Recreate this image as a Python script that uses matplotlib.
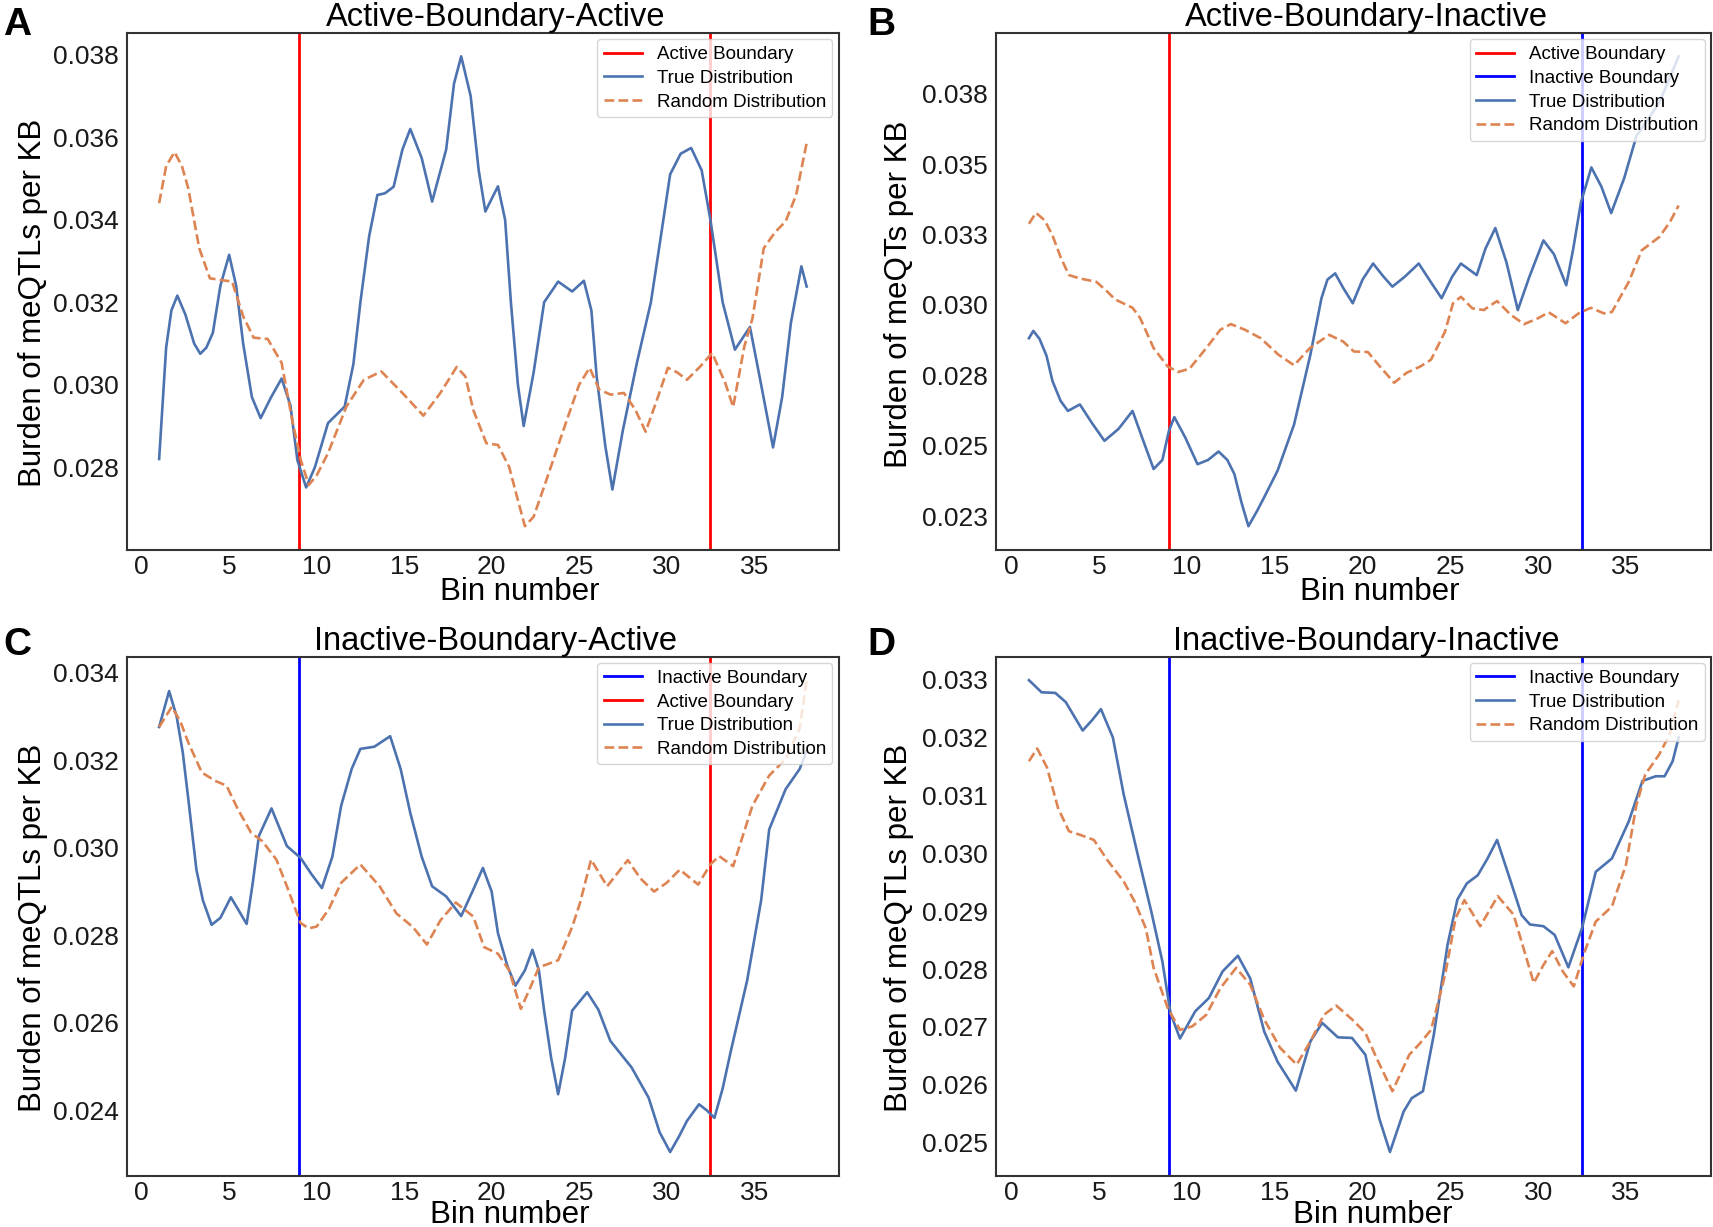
import matplotlib.pyplot as plt

plt.rcParams['font.family'] = ['Liberation Sans', 'DejaVu Sans']

TRUE_COLOR = '#4C72B0'
RAND_COLOR = '#DD8452'

# ---- data ----
bin_ticks = [0, 5, 10, 15, 20, 25, 30, 35]
boundary_left = 9.0
boundary_right = 32.5

# A: Active-Boundary-Active
a_true_x = [1.0, 1.4, 1.7, 2.04, 2.5, 3.0, 3.35, 3.7, 4.07, 4.5, 5.0, 5.4, 5.8, 6.3, 6.8, 7.4, 8.0, 8.5,
            8.9, 9.4, 9.9, 10.65, 11.6, 12.1, 12.5, 13.0, 13.47, 13.9, 14.4, 14.9, 15.35, 16.0, 16.6,
            17.4, 17.85, 18.26, 18.8, 19.26, 19.64, 20.36, 20.77, 21.1, 21.5, 21.83, 22.4, 23.0, 23.8,
            24.6, 25.27, 25.7, 26.0, 26.5, 26.9, 27.5, 28.3, 29.1, 29.6, 30.2, 30.8, 31.4, 32.0, 32.5,
            33.2, 33.9, 34.76, 35.4, 36.08, 36.6, 37.1, 37.7, 38.0]
a_true_y = [0.0282, 0.0309, 0.0318, 0.03216, 0.0317, 0.0310, 0.03075, 0.0309, 0.03126, 0.0324, 0.03315,
            0.0324, 0.0310, 0.0297, 0.02919, 0.0297, 0.03015, 0.0295, 0.02817, 0.02751, 0.0280, 0.02907,
            0.02947, 0.0305, 0.0320, 0.0336, 0.0346, 0.03464, 0.0348, 0.0357, 0.0362, 0.0355, 0.03444,
            0.0357, 0.0373, 0.03796, 0.0370, 0.0352, 0.0342, 0.03481, 0.0340, 0.0320, 0.0300, 0.0290,
            0.0303, 0.0320, 0.0325, 0.03226, 0.03252, 0.0318, 0.0302, 0.0285, 0.02746, 0.0289, 0.03053,
            0.0320, 0.0334, 0.0351, 0.0356, 0.03574, 0.0352, 0.0340, 0.0320, 0.03085, 0.0314, 0.0300,
            0.02848, 0.0297, 0.0315, 0.03287, 0.03238]
a_rand_x = [1.0, 1.4, 1.88, 2.3, 2.66, 3.29, 3.9, 4.5, 5.17, 5.8, 6.4, 7.2, 8.0, 8.6, 9.1, 9.55, 10.0,
            10.65, 11.7, 12.7, 13.7, 14.9, 16.1, 17.07, 18.0, 18.5, 18.95, 19.7, 20.36, 21.0, 21.5, 21.9,
            22.4, 23.0, 24.3, 25.0, 25.6, 26.15, 26.8, 27.56, 28.2, 28.8, 29.5, 30.07, 30.6, 31.16, 31.94,
            32.6, 33.35, 33.8, 34.44, 34.9, 35.55, 36.2, 36.8, 37.4, 38.0]
a_rand_y = [0.0344, 0.0353, 0.03564, 0.0353, 0.03477, 0.03331, 0.03258, 0.03254, 0.0325, 0.03166, 0.03114,
            0.03111, 0.03053, 0.02915, 0.02817, 0.02757, 0.0278, 0.02834, 0.02947, 0.03012, 0.03032,
            0.0298, 0.02925, 0.0298, 0.03043, 0.0302, 0.02939, 0.02858, 0.02854, 0.02801, 0.0272, 0.02657,
            0.0268, 0.02753, 0.02915, 0.0300, 0.03041, 0.02988, 0.02976, 0.0298, 0.0294, 0.02886, 0.0297,
            0.03041, 0.0303, 0.03012, 0.03045, 0.03077, 0.03004, 0.02946, 0.03093, 0.0316, 0.03331, 0.0337,
            0.03396, 0.0346, 0.03586]

# B: Active-Boundary-Inactive
b_true_x = [1.0, 1.25, 1.6, 2.0, 2.34, 2.8, 3.22, 3.9, 4.6, 5.3, 6.1, 6.9, 7.5, 8.1, 8.6, 8.97, 9.28, 9.9,
            10.6, 11.2, 11.8, 12.3, 12.7, 13.1, 13.5, 14.0, 14.4, 15.16, 16.1, 17.03, 17.66, 18.0, 18.44,
            18.9, 19.44, 20.0, 20.6, 21.2, 21.7, 22.4, 23.2, 23.9, 24.5, 25.1, 25.6, 26.5, 27.0, 27.56,
            28.2, 28.84, 29.5, 30.3, 30.9, 31.6, 32.0, 32.44, 33.03, 33.6, 34.16, 34.9, 35.6, 36.9, 38.0]
b_true_y = [0.02882, 0.02908, 0.0288, 0.0282, 0.0273, 0.0266, 0.02624, 0.02647, 0.0258, 0.02518, 0.0256,
            0.02624, 0.0252, 0.02418, 0.0245, 0.02553, 0.02602, 0.0253, 0.02435, 0.0245, 0.0248, 0.0245,
            0.0240, 0.0230, 0.02215, 0.0227, 0.02318, 0.02412, 0.02576, 0.02824, 0.03024, 0.0309, 0.03112,
            0.0306, 0.03006, 0.0309, 0.03147, 0.0310, 0.03065, 0.0310, 0.03147, 0.0308, 0.03024, 0.0310,
            0.03147, 0.03106, 0.0320, 0.03273, 0.0315, 0.02982, 0.0310, 0.03229, 0.0318, 0.0307, 0.0320,
            0.03365, 0.03488, 0.0342, 0.03326, 0.0345, 0.0360, 0.03718, 0.03882]
b_rand_x = [1.0, 1.4, 1.9, 2.34, 2.8, 3.28, 3.9, 4.84, 5.47, 5.9, 6.9, 7.34, 8.1, 8.9, 9.5, 10.15, 11.1,
            11.9, 12.5, 13.3, 14.2, 15.2, 16.1, 17.0, 18.1, 18.9, 19.5, 20.3, 20.9, 21.8, 22.5, 23.3, 23.9,
            24.7, 25.15, 25.6, 26.25, 26.9, 27.66, 28.44, 29.2, 30.0, 30.6, 31.56, 32.3, 33.0, 33.75, 34.2,
            35.16, 35.9, 36.9, 37.5, 38.0]
b_rand_y = [0.03288, 0.03327, 0.0330, 0.03247, 0.0317, 0.03106, 0.03094, 0.03082, 0.03047, 0.0302, 0.0299,
            0.02953, 0.02847, 0.02782, 0.02762, 0.02774, 0.02847, 0.02912, 0.02932, 0.02912, 0.02882,
            0.02824, 0.02786, 0.02847, 0.02894, 0.0287, 0.02835, 0.02833, 0.02788, 0.02724, 0.02759,
            0.02782, 0.02806, 0.02906, 0.03006, 0.03029, 0.02988, 0.02982, 0.03014, 0.02965, 0.02932,
            0.02953, 0.02974, 0.02935, 0.0297, 0.0299, 0.0297, 0.02975, 0.03082, 0.03194, 0.03241,
            0.03294, 0.03353]

# C: Inactive-Boundary-Active
c_true_x = [1.0, 1.57, 2.0, 2.35, 2.7, 3.13, 3.5, 4.0, 4.5, 5.1, 5.5, 6.0, 6.35, 6.7, 7.42, 8.3, 9.08, 9.7,
            10.3, 10.9, 11.4, 12.0, 12.5, 13.3, 14.2, 14.8, 15.35, 16.0, 16.6, 17.4, 18.26, 18.9, 19.5,
            20.0, 20.36, 20.9, 21.36, 21.9, 22.33, 22.7, 23.0, 23.4, 23.8, 24.2, 24.6, 25.46, 26.1, 26.78,
            27.4, 28.0, 28.97, 29.6, 30.2, 30.7, 31.16, 31.85, 32.3, 32.73, 33.2, 33.67, 34.6, 35.4, 35.86,
            36.8, 37.6, 38.0]
c_true_y = [0.03276, 0.03358, 0.0330, 0.03218, 0.0310, 0.0295, 0.0288, 0.02824, 0.0284, 0.02887, 0.0286,
            0.02826, 0.0292, 0.03027, 0.0309, 0.03004, 0.02977, 0.0294, 0.02908, 0.0298, 0.03096, 0.0318,
            0.03226, 0.03231, 0.03255, 0.0318, 0.0308, 0.0298, 0.02912, 0.02889, 0.02844, 0.0290, 0.02954,
            0.0290, 0.02805, 0.0273, 0.02685, 0.0272, 0.02767, 0.0272, 0.02628, 0.0252, 0.02437, 0.0252,
            0.02628, 0.0267, 0.0263, 0.02559, 0.02528, 0.02498, 0.02429, 0.0235, 0.02305, 0.0234, 0.02376,
            0.02414, 0.0240, 0.02383, 0.0245, 0.02536, 0.02697, 0.0288, 0.03042, 0.03134, 0.0318, 0.03222]
c_rand_x = [1.0, 1.72, 2.2, 2.66, 3.44, 4.2, 4.85, 5.5, 6.26, 6.9, 7.7, 8.3, 9.08, 9.55, 10.0, 10.7, 11.4,
            12.5, 13.6, 14.56, 15.5, 16.3, 17.07, 17.95, 18.95, 19.57, 20.36, 21.0, 21.67, 22.2, 22.7, 23.8,
            24.6, 25.05, 25.68, 26.6, 27.78, 28.5, 29.28, 30.0, 30.75, 31.8, 32.5, 33.0, 33.8, 34.9, 35.86,
            36.8, 37.6, 38.0]
c_rand_y = [0.03276, 0.03322, 0.0329, 0.03241, 0.03172, 0.03153, 0.03142, 0.03088, 0.03034, 0.03015,
            0.02973, 0.02912, 0.02828, 0.02816, 0.0282, 0.0286, 0.0292, 0.02962, 0.02912, 0.0285, 0.02819,
            0.02779, 0.02834, 0.02875, 0.02843, 0.02773, 0.02758, 0.0272, 0.02632, 0.0268, 0.02727,
            0.02743, 0.02819, 0.02874, 0.02973, 0.02912, 0.02972, 0.0293, 0.029, 0.0292, 0.0295, 0.02916,
            0.02962, 0.02981, 0.02958, 0.03096, 0.03165, 0.03203, 0.03272, 0.03383]

# D: Inactive-Boundary-Inactive
d_true_x = [1.0, 1.72, 2.5, 3.1, 4.06, 4.6, 5.1, 5.78, 6.4, 7.2, 7.97, 8.6, 9.06, 9.6, 10.47, 11.25, 12.03,
            12.9, 13.6, 14.4, 15.16, 16.2, 17.03, 17.7, 18.6, 19.4, 20.16, 20.94, 21.56, 22.34, 22.8, 23.44,
            24.06, 24.84, 25.4, 25.94, 26.56, 27.1, 27.66, 28.44, 29.06, 29.53, 30.3, 30.94, 31.72, 32.5,
            33.28, 34.2, 35.16, 35.94, 36.7, 37.2, 37.66, 38.0]
d_true_y = [0.03299, 0.03278, 0.03277, 0.03261, 0.03212, 0.0323, 0.03249, 0.0320, 0.03101, 0.02997,
            0.02899, 0.02813, 0.02724, 0.0268, 0.02727, 0.0275, 0.02796, 0.02823, 0.02784, 0.02692, 0.0264,
            0.0259, 0.02675, 0.02707, 0.02682, 0.02681, 0.02652, 0.02543, 0.02484, 0.02554, 0.02577,
            0.02589, 0.02687, 0.02842, 0.0292, 0.02948, 0.02962, 0.0299, 0.03023, 0.02951, 0.02893,
            0.02877, 0.02874, 0.02859, 0.02803, 0.02871, 0.02968, 0.02991, 0.03055, 0.03125, 0.03133,
            0.03133, 0.03159, 0.0320]
d_rand_x = [1.0, 1.47, 2.03, 2.66, 3.28, 3.9, 4.7, 5.47, 6.4, 7.03, 7.66, 8.1, 8.9, 9.6, 10.3, 11.1, 11.9,
            12.8, 13.6, 14.4, 15.3, 16.25, 17.03, 17.8, 18.5, 19.4, 20.16, 20.8, 21.7, 22.66, 23.28, 23.9,
            24.7, 25.3, 25.8, 26.7, 27.7, 28.6, 29.75, 30.3, 30.8, 31.4, 32.03, 32.66, 33.28, 34.2, 35.0,
            35.6, 36.1, 36.9, 37.5, 38.0]
d_rand_y = [0.03159, 0.03181, 0.03148, 0.03078, 0.03038, 0.03032, 0.03023, 0.02988, 0.02951, 0.02916,
            0.0287, 0.02802, 0.02733, 0.02695, 0.02701, 0.02721, 0.02767, 0.02802, 0.02773, 0.02713,
            0.02664, 0.02635, 0.02675, 0.02721, 0.02737, 0.02713, 0.0269, 0.02646, 0.02589, 0.02652,
            0.02672, 0.02695, 0.0279, 0.02888, 0.02919, 0.02874, 0.02926, 0.02894, 0.02776, 0.02807,
            0.02831, 0.02796, 0.0277, 0.02831, 0.02882, 0.02908, 0.0298, 0.03084, 0.03136, 0.03171,
            0.03206, 0.03264]

a_yticks = [0.028, 0.030, 0.032, 0.034, 0.036, 0.038]
a_ylabels = ['0.028', '0.030', '0.032', '0.034', '0.036', '0.038']
b_yticks = [0.0225, 0.025, 0.0275, 0.030, 0.0325, 0.035, 0.0375]
b_ylabels = ['0.023', '0.025', '0.028', '0.030', '0.033', '0.035', '0.038']
c_yticks = [0.024, 0.026, 0.028, 0.030, 0.032, 0.034]
c_ylabels = ['0.024', '0.026', '0.028', '0.030', '0.032', '0.034']
d_yticks = [0.025, 0.026, 0.027, 0.028, 0.029, 0.030, 0.031, 0.032, 0.033]
d_ylabels = ['0.025', '0.026', '0.027', '0.028', '0.029', '0.030', '0.031', '0.032', '0.033']


def draw_panel(ax, title, tx, ty, rx, ry, vlines, yticks, ylabels, ylabel, xlab_pos, ylab_pos):
    for xv, col, lab in vlines:
        ax.axvline(xv, color=col, lw=2, label=lab)
    ax.plot(tx, ty, color=TRUE_COLOR, lw=1.9, solid_joinstyle='round', label='True Distribution')
    ax.plot(rx, ry, color=RAND_COLOR, lw=1.9, ls='--', dashes=(3.7, 1.6), label='Random Distribution')
    ax.set_title(title, fontsize=23.5, pad=3, x=0.518)
    ax.set_xticks(bin_ticks)
    ax.set_yticks(yticks)
    ax.set_yticklabels(ylabels)
    ax.set_xlabel('Bin number', fontsize=22.5)
    ax.xaxis.set_label_coords(*xlab_pos)
    ax.set_ylabel(ylabel, fontsize=22.5)
    ax.yaxis.set_label_coords(*ylab_pos)
    ax.tick_params(length=0, labelsize=19, colors='#1a1a1a')
    ax.tick_params(axis='x', pad=4)
    ax.tick_params(axis='y', pad=6)
    for s in ax.spines.values():
        s.set_color('#333333')
        s.set_linewidth(1.5)
    ax.legend(loc='upper right', fontsize=13.5, labelspacing=0.35, borderaxespad=0.35,
              handlelength=2.0, borderpad=0.35, framealpha=0.8, edgecolor='#cccccc')


fig = plt.figure(figsize=(17.13, 12.27), dpi=100)
ax_a = fig.add_axes([0.074, 0.552, 0.4158, 0.4212])
ax_b = fig.add_axes([0.5817, 0.552, 0.4172, 0.4212])
ax_c = fig.add_axes([0.074, 0.0419, 0.4158, 0.423])
ax_d = fig.add_axes([0.5817, 0.0419, 0.4172, 0.423])

draw_panel(ax_a, 'Active-Boundary-Active', a_true_x, a_true_y, a_rand_x, a_rand_y,
           [(boundary_left, 'red', 'Active Boundary'), (boundary_right, 'red', None)],
           a_yticks, a_ylabels, 'Burden of meQTLs per KB', (0.552, -0.052), (-0.1105, 0.477))
draw_panel(ax_b, 'Active-Boundary-Inactive', b_true_x, b_true_y, b_rand_x, b_rand_y,
           [(boundary_left, 'red', 'Active Boundary'), (boundary_right, 'blue', 'Inactive Boundary')],
           b_yticks, b_ylabels, 'Burden of meQTs per KB', (0.537, -0.052), (-0.1153, 0.4946))
draw_panel(ax_c, 'Inactive-Boundary-Active', c_true_x, c_true_y, c_rand_x, c_rand_y,
           [(boundary_left, 'blue', 'Inactive Boundary'), (boundary_right, 'red', 'Active Boundary')],
           c_yticks, c_ylabels, 'Burden of meQTLs per KB', (0.538, -0.047), (-0.1105, 0.478))
draw_panel(ax_d, 'Inactive-Boundary-Inactive', d_true_x, d_true_y, d_rand_x, d_rand_y,
           [(boundary_left, 'blue', 'Inactive Boundary'), (boundary_right, 'blue', None)],
           d_yticks, d_ylabels, 'Burden of meQTLs per KB', (0.526, -0.047), (-0.1153, 0.478))

for letter, fx, fy in [('A', 0.002, 0.980), ('B', 0.5065, 0.980), ('C', 0.002, 0.474), ('D', 0.5065, 0.474)]:
    fig.text(fx, fy, letter, fontsize=28, fontweight='bold', va='center', ha='left')

fig.savefig('out.png', dpi=100)
